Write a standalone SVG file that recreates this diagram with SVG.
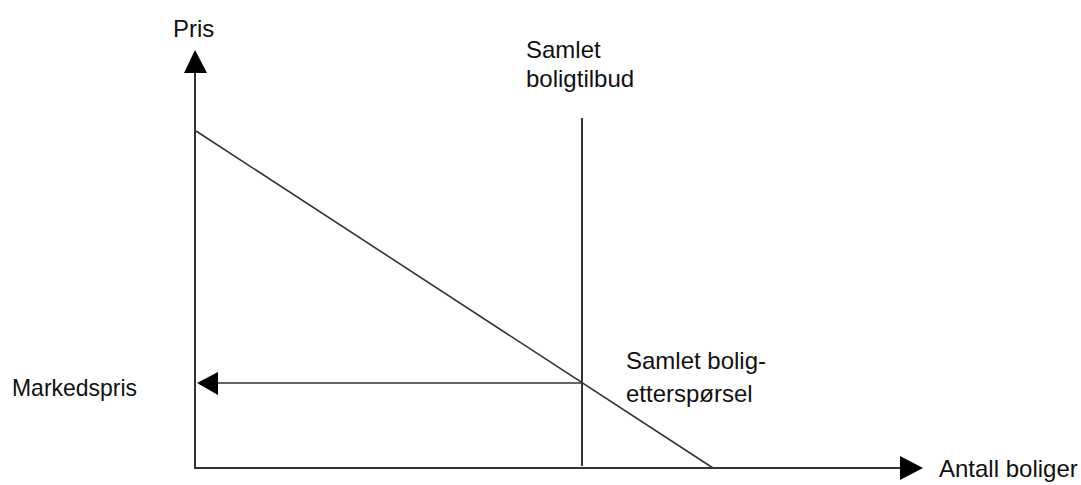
<svg xmlns="http://www.w3.org/2000/svg" width="1081" height="485" viewBox="0 0 1081 485">
<style>
text{font-family:"Liberation Sans",Arial,sans-serif;font-size:24px;fill:#111}
.ln{stroke:#333;stroke-width:2;fill:none}
.ar{fill:#000}
</style>
<rect width="1081" height="485" fill="#fff"/>
<g id="connectors">
<line class="ln" x1="195" y1="70" x2="195" y2="469"/>
<line class="ln" x1="194" y1="468" x2="902" y2="468"/>
<polygon class="ar" points="195,50 184,73 207,73"/>
<polygon class="ar" points="923,468 900,456 900,480"/>
<line class="ln" x1="582" y1="118" x2="582" y2="466"/>
<line class="ln" x1="196" y1="131" x2="713" y2="468" style="stroke-width:1.6"/>
<line class="ln" x1="215" y1="383" x2="582" y2="383" style="stroke-width:1.6"/>
<polygon class="ar" points="197,383 218,372 218,395"/>
</g>
<g id="label-pris"><text x="173" y="37">Pris</text></g>
<g id="label-tilbud"><text x="526" y="58">Samlet</text><text x="526" y="87">boligtilbud</text></g>
<g id="label-etterspørsel"><text x="626" y="369" textLength="140" lengthAdjust="spacingAndGlyphs">Samlet bolig-</text><text x="626" y="402">etterspørsel</text></g>
<g id="label-markedspris"><text x="12" y="396" textLength="125" lengthAdjust="spacingAndGlyphs">Markedspris</text></g>
<g id="label-antall"><text x="939" y="477">Antall boliger</text></g>
</svg>
